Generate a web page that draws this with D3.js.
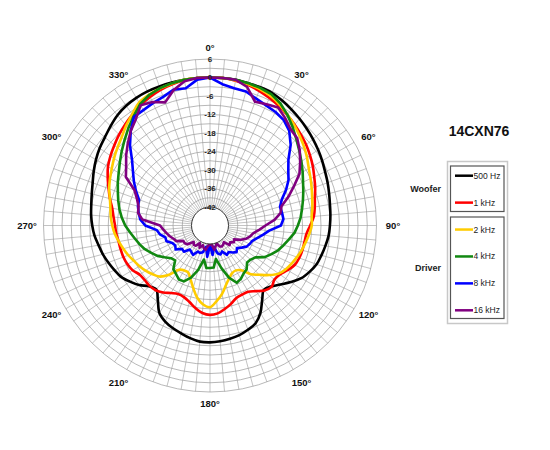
<!DOCTYPE html>
<html>
<head>
<meta charset="utf-8">
<script src="https://cdn.jsdelivr.net/npm/d3@7"></script>
<style>
body { margin: 0; background: #fff; }
text { font-family: Arial, "Liberation Sans", sans-serif; }
</style>
</head>
<body>
<div id="chart"></div>
<script>
const width = 550;
const height = 450;
const cx = 210;
const cy = 225.5;

// measurement angles (degrees, clockwise from front)
const angles = [0, 5, 10, 15, 20, 25, 30, 35, 40, 45, 50, 55, 60, 65, 70, 75, 80, 85,
    90, 95, 100, 105, 110, 115, 120, 125, 130, 135, 140, 145, 150, 155, 160, 165, 170, 175,
    180, 185, 190, 195, 200, 205, 210, 215, 220, 225, 230, 235, 240, 245, 250, 255, 260, 265,
    270, 275, 280, 285, 290, 295, 300, 305, 310, 315, 320, 325, 330, 335, 340, 345, 350, 355];

const ringLabels = [6, 0, -6, -12, -18, -24, -30, -36, -42];
const angleLabels = [0, 30, 60, 90, 120, 150, 180, 210, 240, 270, 300, 330];

const seriesNames = ["500 Hz", "1 kHz", "2 kHz", "4 kHz", "8 kHz", "16 kHz"];

// relative level in dB, one value per angle
const hz500 = [0, 0, 0, -0.2, -0.3, -0.5, -1.2, -2, -2.8, -3.6, -4.4, -5.2, -6, -6.8, -7.4, -8, -8.5, -8.8,
    -9.1, -9.4, -10, -10.6, -11.2, -12.4, -13.8, -16, -18.2, -20, -20.8, -18.5, -15.3, -13, -12, -11.2, -10.7, -10.3,
    -10.1, -10.2, -10.9, -11.8, -12.6, -13.6, -15.2, -18.5, -20.9, -20.1, -18, -16.3, -14.7, -13.8, -12.9, -12, -11.3, -10.4,
    -9.8, -9.3, -8.9, -8.3, -7.5, -6.4, -5.3, -4.3, -3.5, -2.4, -1.3, -0.6, -0.2, 0, 0, 0, 0, 0];

const khz1 = [0, 0, -0.3, -0.8, -1.5, -2.4, -3.3, -4.3, -5.3, -6.3, -7.3, -8.4, -9.5, -10.7, -11.7, -12.8, -13.5, -14.2,
    -15.5, -16.6, -16.9, -17, -17.2, -17.7, -19, -20.3, -20.7, -19.8, -20.5, -22, -23.2, -23.3, -23, -21.7, -20.5, -19.4,
    -19, -19.5, -20.8, -22.3, -23.3, -23.5, -22.7, -21.5, -20.6, -20.3, -20.4, -20.2, -19, -18.4, -18.1, -18, -17.9, -17.5,
    -17.2, -16.6, -15.8, -14.4, -13, -11.4, -9.8, -8.6, -7.5, -6.3, -5.2, -4.1, -3, -2, -1.2, -0.6, -0.2, 0];

const khz2 = [0, 0, -0.2, -0.5, -0.9, -1.6, -2.8, -4.2, -5.5, -6.9, -8.2, -9.6, -11, -12, -12.9, -13.7, -14.3, -14.9,
    -15, -15.7, -16.5, -17.2, -18, -18.8, -19.6, -20.8, -23, -25.4, -27.4, -30.3, -31.2, -31, -29.8, -28, -25.5, -23.4,
    -21.5, -22.3, -24.2, -27, -29.5, -31.2, -31.2, -30.5, -27, -24.6, -23.5, -22.5, -21.6, -20.8, -19.8, -18.9, -18, -17,
    -16.3, -15.7, -15.2, -14.4, -13.2, -12.2, -11.2, -10, -8.8, -7.5, -5.7, -4, -2, -1.2, -0.7, -0.3, 0, 0];

const khz4 = [0, 0, 0, -0.2, -0.5, -1, -2.3, -4.2, -6.3, -8.4, -10.2, -11.8, -13.3, -14.7, -15.8, -16.8, -17.7, -18.5,
    -19.5, -20.5, -22, -23.3, -24.5, -26, -27.5, -30, -30.8, -31, -29.5, -29, -28, -27.5, -30, -33.7, -37, -34.3,
    -34.2, -34.2, -36.8, -33, -30, -28, -27.8, -28.8, -29.5, -32, -31.5, -30, -28.3, -27, -25.5, -24.4, -23.3, -22,
    -20.5, -19.3, -18.2, -17.2, -16.2, -15, -13.8, -12.3, -10.6, -8.8, -6.8, -4.8, -2.6, -1.3, -0.6, -0.2, 0, 0];

const khz8 = [0, -2, -2.8, -3, -4.2, -5, -5.5, -6.3, -8, -11, -14.8, -17, -18.6, -20.8, -23.2, -24.5, -24.3, -24.1,
    -25, -28.7, -30.6, -32.2, -33.4, -33.8, -34.3, -35.5, -36.6, -35.8, -36.6, -37.5, -37, -38.7, -38, -38.7, -41, -38.4,
    -41.7, -37.8, -41, -39, -38.5, -38.7, -37, -37.5, -37.8, -36, -36.2, -34.4, -35, -34.5, -33, -33, -31.5, -30.7,
    -27, -25.3, -24.5, -23.8, -23.5, -21.5, -19.5, -17.5, -15, -11.3, -8, -5, -4.8, -4.2, -3.6, -2.4, -2.8, -0.5];

const khz16 = [0, 0, 0, -1.5, -5.3, -4.6, -3.8, -5.5, -7.3, -8, -10, -12.3, -14.5, -18, -21, -24, -24.8, -27,
    -30, -32, -33.7, -34.5, -35.5, -37, -39, -38.5, -39.5, -39, -41, -40.5, -40.2, -40.5, -41.8, -41, -40, -41.8,
    -41.8, -41.5, -40, -40.3, -41.2, -40, -41.4, -40, -39.8, -40.5, -38.5, -38, -38, -36, -35.4, -34.5, -33.7, -32.8,
    -31.8, -26, -24.3, -24, -22.8, -21, -16.5, -14.8, -12.5, -10.3, -8, -6, -3, -3.8, -5.5, -2.5, -0.5, 0];

const seriesValues = [hz500, khz1, khz2, khz4, khz8, khz16];
const seriesColors = ["#000000", "#ff0000", "#ffcc00", "#118811", "#0000ff", "#800080"];
const smoothSeries = [true, true, true, false, false, false];

const svg = d3.select("#chart")
    .append("svg")
    .attr("width", width)
    .attr("height", height);

svg.append("rect")
    .attr("width", width)
    .attr("height", height)
    .attr("fill", "#fff");

const r = d3.scaleLinear()
    .domain([-42, 6])
    .range([18.5, 166.5]);

const polar = svg.append("g")
    .attr("transform", `translate(${cx},${cy})`);

// grid rings every 3 dB
polar.append("g")
    .selectAll("circle")
    .data(d3.range(-39, 7, 3))
    .enter().append("circle")
    .attr("r", d => r(d))
    .attr("fill", "none")
    .attr("stroke", "#9a9a9a")
    .attr("stroke-width", 0.7);

// spokes every 5 degrees
polar.append("g")
    .selectAll("line")
    .data(d3.range(0, 360, 5))
    .enter().append("line")
    .attr("x1", d => r(-42) * Math.sin(d * Math.PI / 180))
    .attr("y1", d => -r(-42) * Math.cos(d * Math.PI / 180))
    .attr("x2", d => r(6) * Math.sin(d * Math.PI / 180))
    .attr("y2", d => -r(6) * Math.cos(d * Math.PI / 180))
    .attr("stroke", "#9a9a9a")
    .attr("stroke-width", 0.6);

// curves
seriesValues.forEach((vals, i) => {
    const pts = angles.map((a, k) => ({ a: a, v: vals[k] }));
    const line = d3.lineRadial()
        .angle(d => d.a * Math.PI / 180)
        .radius(d => r(d.v))
        .curve(smoothSeries[i] ? d3.curveCatmullRomClosed.alpha(0.5) : d3.curveLinearClosed);
    polar.append("path")
        .datum(pts)
        .attr("d", line)
        .attr("fill", "none")
        .attr("stroke", seriesColors[i])
        .attr("stroke-width", 2.6)
        .attr("stroke-linejoin", "round");
});

// inner circle
polar.append("circle")
    .attr("r", r(-42))
    .attr("fill", "#fff")
    .attr("stroke", "#333")
    .attr("stroke-width", 1);

// ring labels
polar.append("g")
    .selectAll("text")
    .data(ringLabels)
    .enter().append("text")
    .attr("x", 0)
    .attr("y", d => -r(d))
    .attr("text-anchor", "middle")
    .attr("dominant-baseline", "central")
    .attr("font-size", "8px")
    .attr("font-weight", "bold")
    .attr("fill", "#222")
    .text(d => d);

// angle labels
polar.append("g")
    .selectAll("text")
    .data(angleLabels)
    .enter().append("text")
    .attr("x", d => 183 * Math.sin(d * Math.PI / 180))
    .attr("y", d => -178 * Math.cos(d * Math.PI / 180) + (d === 30 || d === 330 ? 3 : 0) - (d === 150 || d === 210 ? -3 : 0))
    .attr("text-anchor", "middle")
    .attr("dominant-baseline", "central")
    .attr("font-size", "9.5px")
    .attr("font-weight", "bold")
    .attr("fill", "#111")
    .text(d => d + "°");

// title
svg.append("text")
    .attr("x", 479)
    .attr("y", 131)
    .attr("text-anchor", "middle")
    .attr("dominant-baseline", "central")
    .attr("font-size", "14px")
    .attr("font-weight", "bold")
    .attr("fill", "#111")
    .text("14CXN76");

// legend
const legend = svg.append("g");
legend.append("rect")
    .attr("x", 447.5).attr("y", 161.5)
    .attr("width", 60).attr("height", 162)
    .attr("fill", "#fff")
    .attr("stroke", "#c8c8c8")
    .attr("stroke-width", 1.5);
legend.append("rect")
    .attr("x", 450.5).attr("y", 166)
    .attr("width", 53.5).attr("height", 45.5)
    .attr("fill", "none")
    .attr("stroke", "#555")
    .attr("stroke-width", 1.2);
legend.append("rect")
    .attr("x", 450.5).attr("y", 217)
    .attr("width", 53.5).attr("height", 101.5)
    .attr("fill", "none")
    .attr("stroke", "#555")
    .attr("stroke-width", 1.2);

const legendY = d3.scalePoint()
    .domain(seriesNames)
    .range([175.7, 310.3]);

const entries = legend.selectAll(".entry")
    .data(seriesNames)
    .enter().append("g")
    .attr("class", "entry");
entries.append("line")
    .attr("x1", 455).attr("x2", 473)
    .attr("y1", (d, i) => legendY(d) + (i >= 2 ? 0 : 0))
    .attr("y2", d => legendY(d))
    .attr("stroke", (d, i) => seriesColors[i])
    .attr("stroke-width", 2.5);
entries.append("text")
    .attr("x", 473.5)
    .attr("y", d => legendY(d))
    .attr("dominant-baseline", "central")
    .attr("font-size", "8.5px")
    .attr("fill", "#222")
    .text(d => d);

legend.append("text")
    .attr("x", 441).attr("y", 189)
    .attr("text-anchor", "end")
    .attr("dominant-baseline", "central")
    .attr("font-size", "9px")
    .attr("font-weight", "bold")
    .attr("fill", "#222")
    .text("Woofer");
legend.append("text")
    .attr("x", 441).attr("y", 268)
    .attr("text-anchor", "end")
    .attr("dominant-baseline", "central")
    .attr("font-size", "9px")
    .attr("font-weight", "bold")
    .attr("fill", "#222")
    .text("Driver");
</script>
</body>
</html>
